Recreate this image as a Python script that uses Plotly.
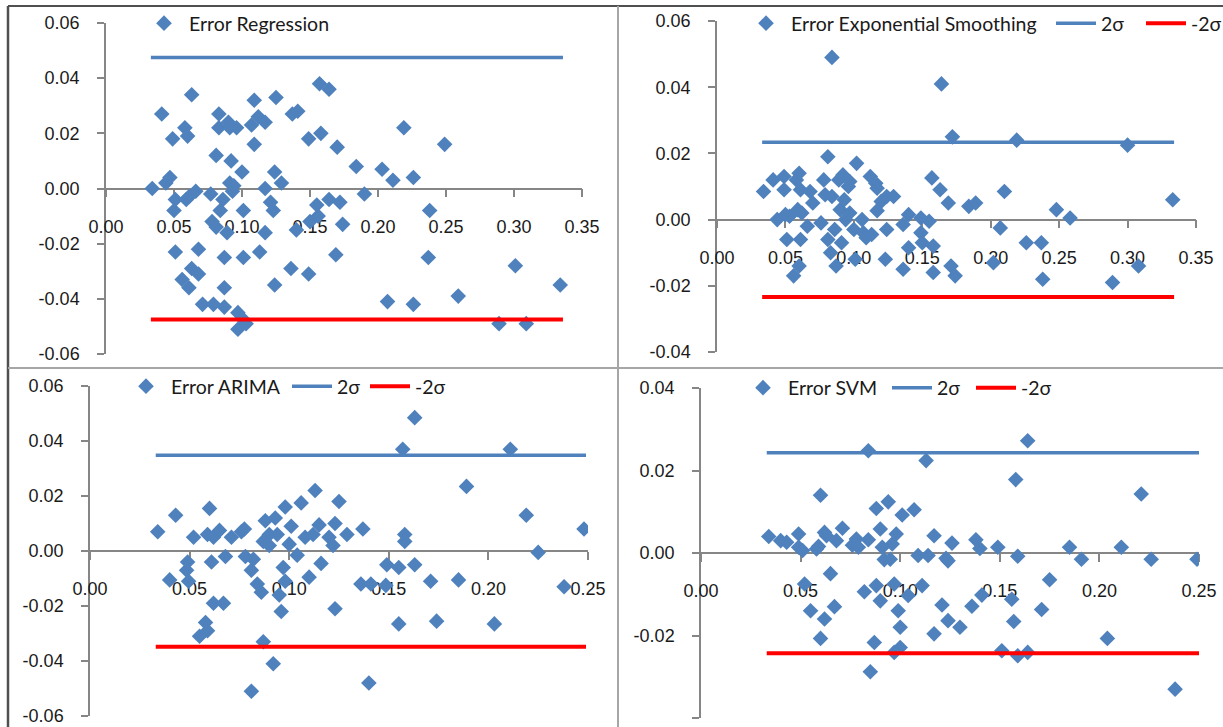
import plotly.graph_objects as go

W, H = 1223, 727

# ---------------- data ----------------
reg_x = [0.034, 0.041, 0.044, 0.047, 0.049, 0.050, 0.051, 0.051, 0.056, 0.058,
         0.060, 0.059, 0.061, 0.061, 0.063, 0.063, 0.066, 0.068, 0.068, 0.071,
         0.077, 0.078, 0.079, 0.081, 0.081, 0.083, 0.083, 0.084, 0.086, 0.087,
         0.087, 0.087, 0.089, 0.090, 0.091, 0.091, 0.092, 0.093, 0.094, 0.096,
         0.097, 0.097, 0.100, 0.100, 0.101, 0.101, 0.103, 0.107, 0.109, 0.109,
         0.112, 0.113, 0.117, 0.117, 0.117, 0.121, 0.123, 0.124, 0.125, 0.124,
         0.129, 0.136, 0.137, 0.141, 0.140, 0.149, 0.150, 0.149, 0.155, 0.156,
         0.157, 0.158, 0.164, 0.164, 0.170, 0.169, 0.172, 0.174, 0.184, 0.190,
         0.203, 0.207, 0.211, 0.219, 0.226, 0.226, 0.238, 0.237, 0.249, 0.259,
         0.289, 0.301, 0.309, 0.334]
reg_y = [0.000, 0.027, 0.002, 0.004, 0.018, -0.008, -0.004, -0.023, -0.033, 0.022,
         0.019, -0.004, -0.003, -0.036, -0.029, 0.034, -0.001, -0.031, -0.022, -0.042,
         -0.002, -0.012, -0.042, 0.012, -0.014, 0.027, 0.022, -0.008, -0.004, -0.043,
         -0.025, -0.036, -0.016, 0.024, 0.022, 0.002, 0.010, -0.001, 0.001, 0.022,
         -0.045, -0.051, -0.047, 0.006, -0.008, -0.025, -0.049, 0.023, 0.032, 0.016,
         0.026, -0.023, 0.024, 0.000, -0.016, -0.005, -0.008, 0.006, 0.033, -0.035,
         0.002, -0.029, 0.027, 0.028, -0.015, 0.018, -0.012, -0.031, -0.006, -0.010,
         0.038, 0.020, 0.036, -0.004, 0.015, -0.024, -0.005, -0.013, 0.008, -0.002,
         0.007, -0.041, 0.003, 0.022, 0.004, -0.042, -0.008, -0.025, 0.016, -0.039,
         -0.049, -0.028, -0.049, -0.035]

exp_x = [0.034, 0.041, 0.044, 0.049, 0.049, 0.050, 0.051, 0.053, 0.056, 0.058,
         0.059, 0.060, 0.060, 0.061, 0.061, 0.062, 0.066, 0.068, 0.070, 0.076,
         0.078, 0.079, 0.081, 0.081, 0.083, 0.084, 0.084, 0.086, 0.087, 0.089,
         0.090, 0.091, 0.092, 0.093, 0.094, 0.096, 0.097, 0.097, 0.100, 0.102,
         0.101, 0.106, 0.107, 0.109, 0.112, 0.113, 0.116, 0.117, 0.117, 0.120,
         0.123, 0.124, 0.124, 0.129, 0.136, 0.136, 0.140, 0.140, 0.149, 0.149,
         0.150, 0.155, 0.157, 0.158, 0.158, 0.163, 0.164, 0.169, 0.171, 0.172,
         0.174, 0.184, 0.189, 0.202, 0.207, 0.210, 0.219, 0.226, 0.237, 0.238,
         0.248, 0.258, 0.289, 0.300, 0.308, 0.333]
exp_y = [0.0085, 0.012, 0.000, 0.013, 0.009, 0.0015, -0.006, 0.001, -0.017, 0.012,
         0.003, 0.014, -0.014, -0.006, 0.009, 0.002, -0.002, 0.0085, 0.005, -0.001,
         0.012, 0.0075, 0.019, -0.006, -0.010, 0.049, 0.007, -0.003, -0.014, 0.012,
         0.003, -0.007, 0.0135, 0.006, 0.000, 0.010, 0.0115, 0.002, -0.003, 0.017,
         -0.012, 0.000, -0.004, -0.0055, 0.013, -0.0045, 0.011, 0.0095, 0.0027, 0.0055,
         -0.012, -0.003, 0.007, 0.007, -0.0015, -0.015, 0.0015, -0.0085, 0.0005, -0.004,
         -0.007, -0.0005, 0.0126, -0.008, -0.016, 0.009, 0.041, 0.005, -0.014, 0.025,
         -0.017, 0.004, 0.005, -0.013, -0.0025, 0.0085, 0.024, -0.007, -0.007, -0.018,
         0.003, 0.0005, -0.019, 0.0225, -0.014, 0.006]

arima_x = [0.034, 0.040, 0.043, 0.0485, 0.049, 0.0495, 0.052, 0.055, 0.058, 0.059,
           0.059, 0.060, 0.061, 0.062, 0.062, 0.065, 0.067, 0.068, 0.071, 0.076,
           0.0775, 0.078, 0.081, 0.081, 0.082, 0.084, 0.086, 0.087, 0.087, 0.088,
           0.090, 0.090, 0.092, 0.093, 0.094, 0.095, 0.096, 0.097, 0.098, 0.098,
           0.100, 0.101, 0.104, 0.106, 0.108, 0.110, 0.112, 0.113, 0.115, 0.116,
           0.120, 0.122, 0.123, 0.123, 0.125, 0.129, 0.136, 0.137, 0.140, 0.141,
           0.1485, 0.149, 0.155, 0.155, 0.157, 0.158, 0.158, 0.163, 0.163, 0.171,
           0.174, 0.185, 0.189, 0.203, 0.211, 0.219, 0.225, 0.238, 0.248]
arima_y = [0.007, -0.0105, 0.013, -0.007, -0.004, -0.011, 0.005, -0.031, -0.026, -0.029,
           0.006, 0.0155, -0.004, -0.019, 0.005, 0.0075, -0.019, -0.002, 0.005, 0.007,
           0.008, -0.002, -0.051, -0.007, -0.003, -0.012, -0.015, 0.0035, -0.033, 0.011,
           0.006, 0.002, -0.041, 0.012, 0.006, -0.016, -0.022, -0.006, 0.016, -0.011,
           0.0025, 0.009, -0.0015, 0.0175, 0.005, -0.0095, 0.006, 0.022, 0.0095, -0.0045,
           0.005, 0.002, -0.021, 0.010, 0.018, 0.006, -0.012, 0.008, -0.048, -0.012,
           -0.0125, -0.005, -0.0265, -0.006, 0.037, 0.006, 0.0035, -0.005, 0.0485, -0.011,
           -0.0255, -0.0105, 0.0235, -0.0265, 0.037, 0.013, -0.0005, -0.013, 0.008]

svm_x = [0.034, 0.040, 0.043, 0.049, 0.049, 0.051, 0.052, 0.055, 0.058, 0.059,
         0.060, 0.060, 0.062, 0.063, 0.062, 0.065, 0.067, 0.068, 0.071, 0.076,
         0.078, 0.079, 0.082, 0.084, 0.084, 0.085, 0.087, 0.088, 0.088, 0.090,
         0.090, 0.091, 0.092, 0.094, 0.095, 0.096, 0.097, 0.097, 0.098, 0.099,
         0.100, 0.100, 0.101, 0.104, 0.107, 0.109, 0.111, 0.113, 0.114, 0.117,
         0.117, 0.121, 0.123, 0.124, 0.124, 0.126, 0.130, 0.136, 0.138, 0.140,
         0.141, 0.149, 0.151, 0.156, 0.157, 0.158, 0.159, 0.159, 0.164, 0.164,
         0.171, 0.175, 0.185, 0.191, 0.204, 0.211, 0.221, 0.226, 0.238, 0.249]
svm_y = [0.004, 0.003, 0.0026, 0.0046, 0.0014, 0.0006, -0.0075, -0.014, 0.001, 0.0016,
         0.014, -0.0207, 0.005, 0.0042, -0.016, -0.005, -0.013, 0.003, 0.006, 0.0019,
         0.0034, 0.0014, -0.0094, 0.0248, 0.0032, -0.0288, -0.0217, 0.0108, -0.0079, 0.0058,
         -0.0116, 0.0014, -0.0016, 0.0124, -0.0015, 0.0022, -0.0241, -0.0075, 0.0046, -0.014,
         -0.018, -0.0229, 0.0092, -0.0103, 0.0105, -0.0006, -0.0079, 0.0224, -0.0006, -0.0196,
         0.0042, -0.0126, -0.0013, -0.0019, -0.0164, 0.0024, -0.018, -0.0129, 0.0032, 0.0011,
         -0.0102, 0.0014, -0.0237, -0.0112, -0.0166, 0.0178, -0.0249, -0.0008, 0.0272, -0.0241,
         -0.0137, -0.0065, 0.0014, -0.0015, -0.0207, 0.0014, 0.0143, -0.0015, -0.033, -0.0015]

reg_sigma = 0.0475
exp_sigma = 0.0234
arima_sigma = 0.0348
svm_sigma = 0.0243

reg_line_x = [0.033, 0.336]
exp_line_x = [0.033, 0.334]
arima_line_x = [0.033, 0.249]
svm_line_x = [0.033, 0.250]

reg_names = ["Error Regression", "2σ", "-2σ"]
exp_names = ["Error Exponential Smoothing", "2σ", "-2σ"]
arima_names = ["Error ARIMA", "2σ", "-2σ"]
svm_names = ["Error SVM", "2σ", "-2σ"]

reg_xticks = [0.00, 0.05, 0.10, 0.15, 0.20, 0.25, 0.30, 0.35]
reg_yticks = [-0.06, -0.04, -0.02, 0.00, 0.02, 0.04, 0.06]
exp_xticks = [0.00, 0.05, 0.10, 0.15, 0.20, 0.25, 0.30, 0.35]
exp_yticks = [-0.04, -0.02, 0.00, 0.02, 0.04, 0.06]
arima_xticks = [0.00, 0.05, 0.10, 0.15, 0.20, 0.25]
arima_yticks = [-0.06, -0.04, -0.02, 0.00, 0.02, 0.04, 0.06]
svm_xticks = [0.00, 0.05, 0.10, 0.15, 0.20, 0.25]
svm_yticks = [-0.04, -0.02, 0.00, 0.02, 0.04]

# ---------------- styling ----------------
BLUE = "#4F81BD"
RED = "#FF0000"
AXIS = "#868686"
TICKFONT = dict(family="Liberation Sans, Arial, sans-serif", size=18, color="#1a1a1a")
LEGFONT = dict(family="Lato, Carlito, sans-serif", size=19.5, color="#1a1a1a")


def fx(p):
    return p / W


def fy(p):
    return 1 - p / H


# pixel boxes: (left, right, top, bottom); legend item anchors in px
panels = [
    dict(x=reg_x, y=reg_y, sig=reg_sigma, lx=reg_line_x, names=reg_names,
         xt=reg_xticks, yt=reg_yticks, box=(106, 582, 23, 354),
         leg=[(139, 23.5), None, None]),
    dict(x=exp_x, y=exp_y, sig=exp_sigma, lx=exp_line_x, names=exp_names,
         xt=exp_xticks, yt=exp_yticks, box=(717, 1196, 21, 352),
         leg=[(741, 23.5), (1051, 23.5), (1141, 23.5)]),
    dict(x=arima_x, y=arima_y, sig=arima_sigma, lx=arima_line_x, names=arima_names,
         xt=arima_xticks, yt=arima_yticks, box=(90, 588, 386, 716),
         leg=[(121, 386.5), (287, 386.5), (365, 386.5)]),
    dict(x=svm_x, y=svm_y, sig=svm_sigma, lx=svm_line_x, names=svm_names,
         xt=svm_xticks, yt=svm_yticks, box=(701, 1199, 388, 718),
         leg=[(738, 388), (887, 388), (971, 388)]),
]

fig = go.Figure()
layout = dict(
    template="none",
    width=W, height=H, margin=dict(l=0, r=0, t=0, b=0, pad=0, autoexpand=False),
    paper_bgcolor="white", plot_bgcolor="white", showlegend=True,
)

leg_count = 0
for i, p in enumerate(panels, start=1):
    xa = "x" if i == 1 else f"x{i}"
    ya = "y" if i == 1 else f"y{i}"
    l, r, t, b = p["box"]
    ymin, ymax = p["yt"][0], p["yt"][-1]
    zero_px = t + (ymax - 0) / (ymax - ymin) * (b - t)

    layout["xaxis" if i == 1 else f"xaxis{i}"] = dict(
        domain=[fx(l), fx(r)], range=[p["xt"][0], p["xt"][-1]],
        anchor="free", position=fy(zero_px), automargin=False,
        tickvals=p["xt"], ticktext=[f"{v:.2f}" for v in p["xt"]],
        ticks="outside", ticklen=8, tickwidth=1.5, tickcolor=AXIS,
        showline=True, linecolor=AXIS, linewidth=1.5,
        showgrid=False, zeroline=False, tickfont=TICKFONT,
        ticklabelstandoff=14, layer="below traces", fixedrange=True,
    )
    layout["yaxis" if i == 1 else f"yaxis{i}"] = dict(
        domain=[fy(b), fy(t)], range=[ymin, ymax], anchor=xa, automargin=False,
        tickvals=p["yt"], ticktext=[f"{v:.2f}" for v in p["yt"]],
        ticks="outside", ticklen=7, tickwidth=1.5, tickcolor=AXIS,
        showline=True, linecolor=AXIS, linewidth=1.5,
        showgrid=False, zeroline=False, tickfont=TICKFONT,
        ticklabelstandoff=14, layer="below traces", fixedrange=True,
    )

    legs = []
    for pos in p["leg"]:
        if pos is None:
            legs.append(None)
            continue
        leg_count += 1
        key = "legend" if leg_count == 1 else f"legend{leg_count}"
        layout[key] = dict(
            x=fx(pos[0]), y=fy(pos[1]), xanchor="left", yanchor="middle",
            orientation="h", bgcolor="rgba(0,0,0,0)", borderwidth=0,
            itemwidth=40, font=LEGFONT, itemclick=False, itemdoubleclick=False,
        )
        legs.append(key)

    fig.add_trace(go.Scatter(
        x=p["x"], y=p["y"], mode="markers", name=p["names"][0],
        marker=dict(symbol="diamond", size=12, color=BLUE, line=dict(width=0)),
        xaxis=xa, yaxis=ya, legend=legs[0], showlegend=True, hoverinfo="x+y",
    ))
    for k, (val, col, wid) in enumerate([(p["sig"], BLUE, 3.5), (-p["sig"], RED, 4)], start=1):
        fig.add_trace(go.Scatter(
            x=p["lx"], y=[val, val], mode="lines", name=p["names"][k],
            line=dict(color=col, width=wid),
            xaxis=xa, yaxis=ya,
            legend=legs[k] if legs[k] else "legend",
            showlegend=legs[k] is not None, hoverinfo="skip",
        ))

# panel frame lines
DARK = "#505050"
GRAY = "#a6a6a6"
shapes = [
    dict(type="line", xref="paper", yref="paper", x0=fx(8), x1=1, y0=fy(6), y1=fy(6),
         line=dict(color=DARK, width=2)),
    dict(type="line", xref="paper", yref="paper", x0=fx(8), x1=fx(8), y0=fy(6), y1=0,
         line=dict(color=DARK, width=2.5)),
    dict(type="line", xref="paper", yref="paper", x0=fx(618), x1=fx(618), y0=fy(6), y1=0,
         line=dict(color=GRAY, width=2)),
    dict(type="line", xref="paper", yref="paper", x0=fx(8), x1=1, y0=fy(368), y1=fy(368),
         line=dict(color=GRAY, width=2)),
]
layout["shapes"] = shapes

fig.update_layout(**layout)

fig.write_html(
    "out.html",
    config={"displayModeBar": False},
    post_script="document.body.style.margin='0';document.body.style.overflow='hidden';",
)
